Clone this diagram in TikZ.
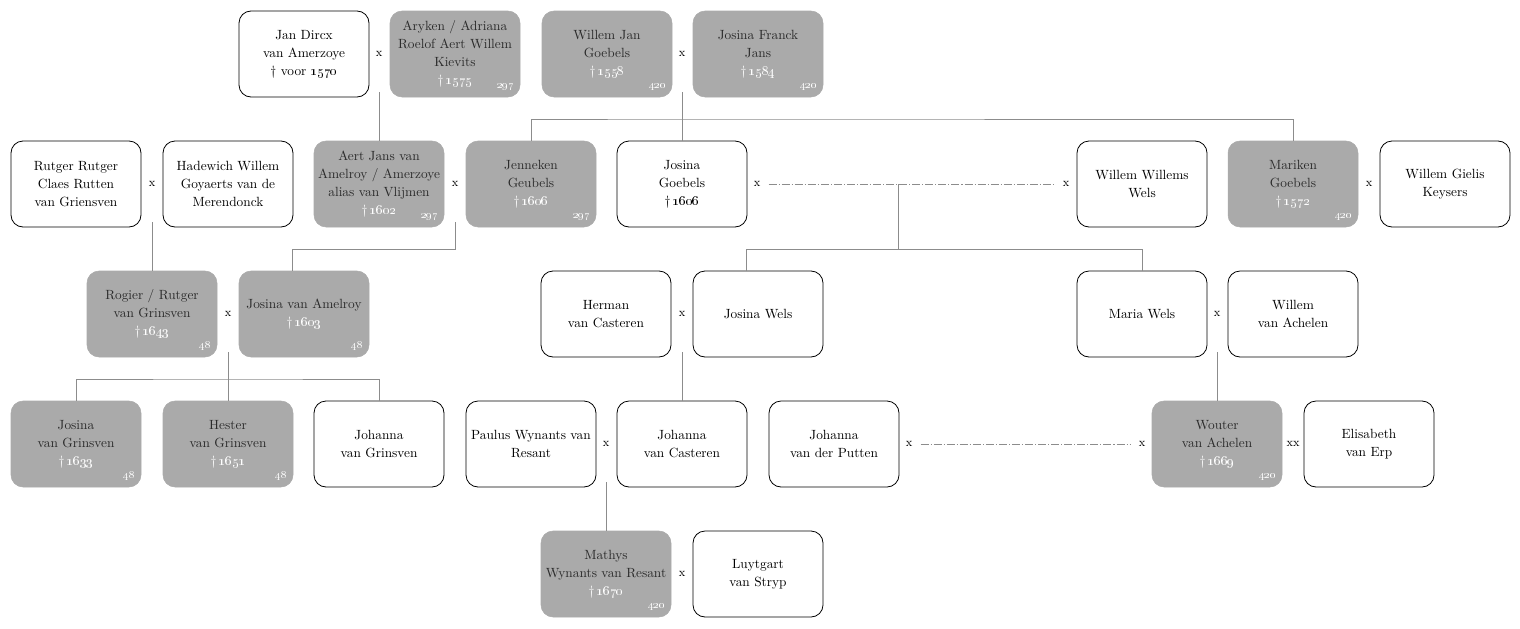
\documentclass[tikz,border=0pt]{standalone}
\usetikzlibrary{calc}
\definecolor{boxgray}{HTML}{AAAAAA}
\definecolor{linegray}{HTML}{8C8C8C}
\definecolor{nametext}{HTML}{2A2A2A}
\newcommand{\ddate}[1]{\textdagger\,\oldstylenums{#1}}
\newcommand{\wdate}[1]{{\color{white}\textdagger\,\oldstylenums{#1}}}
\tikzset{
  person/.style={rectangle, rounded corners=9pt, minimum width=97.5pt, minimum height=64.5pt,
    align=center, inner sep=2pt, font=\fontsize{10}{13.5}\selectfont},
  plain/.style={person, draw=black, line width=0.6pt, fill=white},
  dead/.style={person, fill=boxgray, draw=boxgray, text=nametext},
  num/.style={anchor=south east, inner sep=0pt, text=white, font=\fontsize{8}{9}\selectfont},
  mx/.style={inner sep=1pt, font=\fontsize{9}{10}\selectfont},
  link/.style={draw=linegray, line width=0.7pt},
  dashlink/.style={link, dash pattern=on 6pt off 1.5pt on 0.8pt off 1.5pt, shorten <=5pt, shorten >=5pt}
}
\begin{document}
\begin{tikzpicture}[x=0.75pt,y=-0.75pt]
\useasboundingbox (0,0) rectangle (1520,628);

% ---------- row 1 ----------
\node[plain] (jan) at (304,54) {Jan Dircx\\van Amerzoye\\\textdagger\ voor \oldstylenums{1570}};
\node[dead] (aryken) at (455,54) {Aryken / Adriana\\Roelof Aert Willem\\Kievits\\\wdate{1575}};
\node[dead] (willemjan) at (607,54) {Willem Jan\\Goebels\\\wdate{1558}};
\node[dead] (josinafranck) at (758,54) {Josina Franck\\Jans\\\wdate{1584}};

% ---------- row 2 ----------
\node[plain] (rutger) at (76,184) {Rutger Rutger\\Claes Rutten\\van Griensven};
\node[plain] (hadewich) at (228,184) {Hadewich Willem\\Goyaerts van de\\Merendonck};
\node[dead] (aert) at (379,184) {Aert Jans van\\Amelroy / Amerzoye\\alias van Vlijmen\\\wdate{1602}};
\node[dead] (jenneken) at (531,184) {Jenneken\\Geubels\\\wdate{1606}};
\node[plain] (josinag) at (682,184) {Josina\\Goebels\\\ddate{1606}};
\node[plain] (willemw) at (1142,184) {Willem Willems\\Wels};
\node[dead] (mariken) at (1293,184) {Mariken\\Goebels\\\wdate{1572}};
\node[plain] (willemg) at (1445,184) {Willem Gielis\\Keysers};

% ---------- row 3 ----------
\node[dead] (rogier) at (152,314) {Rogier / Rutger\\van Grinsven\\\wdate{1643}};
\node[dead] (josinava) at (304,314) {Josina van Amelroy\\\wdate{1603}};
\node[plain] (herman) at (606,314) {Herman\\van Casteren};
\node[plain] (josinaw) at (758,314) {Josina Wels};
\node[plain] (maria) at (1142,314) {Maria Wels};
\node[plain] (willemva) at (1293,314) {Willem\\van Achelen};

% ---------- row 4 ----------
\node[dead] (josinavg) at (76,444) {Josina\\van Grinsven\\\wdate{1633}};
\node[dead] (hester) at (228,444) {Hester\\van Grinsven\\\wdate{1651}};
\node[plain] (johannavg) at (379,444) {Johanna\\van Grinsven};
\node[plain] (paulus) at (531,444) {Paulus Wynants van\\Resant};
\node[plain] (johannavc) at (682,444) {Johanna\\van Casteren};
\node[plain] (johannavdp) at (834,444) {Johanna\\van der Putten};
\node[dead] (wouter) at (1217,444) {Wouter\\van Achelen\\\wdate{1669}};
\node[plain] (elisabeth) at (1369,444) {Elisabeth\\van Erp};

% ---------- row 5 ----------
\node[dead] (mathys) at (606,574) {Mathys\\Wynants van Resant\\\wdate{1670}};
\node[plain] (luytgart) at (758,574) {Luytgart\\van Stryp};

% ---------- source numbers ----------
\foreach \b/\n in {aryken/297, willemjan/420, josinafranck/420, aert/297, jenneken/297,
  mariken/420, rogier/48, josinava/48, josinavg/48, hester/48, wouter/420, mathys/420}
  \node[num] (\b-num) at ([shift={(-6,-6)}]\b.south east) {\oldstylenums{\n}};

% ---------- marriage marks ----------
\node[mx] (m1) at (379,54) {x};
\node[mx] (m2) at (682,54) {x};
\node[mx] (m3) at (152,184) {x};
\node[mx] (m4) at (455,184) {x};
\node[mx] (m5) at (757,184) {x};
\node[mx] (m6) at (1066,184) {x};
\node[mx] (m7) at (1369,184) {x};
\node[mx] (m8) at (228,314) {x};
\node[mx] (m9) at (682,314) {x};
\node[mx] (m10) at (1217,314) {x};
\node[mx] (m11) at (606,444) {x};
\node[mx] (m12) at (909,444) {x};
\node[mx] (m13) at (1142,444) {x};
\node[mx] (m14) at (1293,444) {xx};
\node[mx] (m15) at (682,574) {x};

% ---------- connector points ----------
\coordinate (c1) at (379,92);
\coordinate (c2) at (682,92);
\coordinate (b2) at (682,119);
\coordinate (c3) at (152,222);
\coordinate (c4) at (455,222);
\coordinate (b4) at (292,249);
\coordinate (c5) at (898,184);
\coordinate (b5) at (898,249);
\coordinate (d5) at (746,249);
\coordinate (c8) at (228,352);
\coordinate (b8) at (228,379);
\coordinate (c9) at (682,352);
\coordinate (c10) at (1217,352);
\coordinate (c11) at (606,482);

% ---------- connectors ----------
\draw[link] (c1) -- (aert.north);
\draw[link] (c2) -- (josinag.north);
\draw[link] (jenneken.north) |- (b2) -| (mariken.north);
\draw[link] (c3) -- (rogier.north);
\draw[link] (c4) |- (b4) -- (b4 |- josinava.north);
\draw[dashlink] (m5.east) -- (m6.west);
\draw[link] (c5) -- (b5);
\draw[link] (d5 |- josinaw.north) -- (d5) -| (maria.north);
\draw[link] (c8) -- (hester.north);
\draw[link] (josinavg.north) |- (b8) -| (johannavg.north);
\draw[link] (c9) -- (johannavc.north);
\draw[link] (c10) -- (wouter.north);
\draw[link] (c11) -- (mathys.north);
\draw[dashlink] (m12.east) -- (m13.west);
\end{tikzpicture}
\end{document}
